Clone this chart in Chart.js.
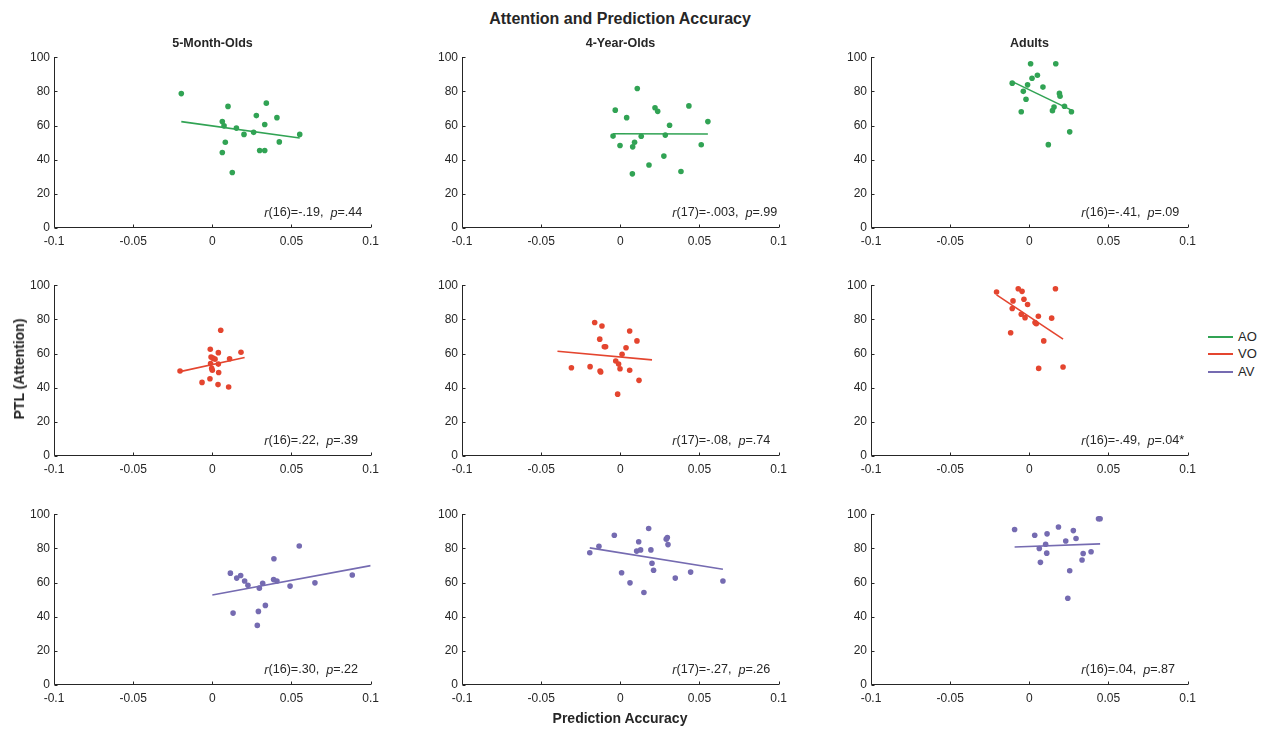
<!DOCTYPE html>
<html>
<head>
<meta charset="utf-8">
<script src="https://cdn.jsdelivr.net/npm/chart.js@4"></script>
<style>
  body { margin: 0; background: #fff; font-family: "Liberation Sans", Arial, sans-serif; color: #262626; }
  #wrap { position: relative; width: 1261px; height: 729px; overflow: hidden; }
  canvas { position: absolute; }
  .txt { position: absolute; white-space: nowrap; font-weight: bold; color: #262626; }
  .leg-line { position: absolute; height: 2px; }
  .leg-txt { position: absolute; font-size: 13px; color: #262626; }
</style>
</head>
<body>
<div id="wrap"></div>
<script>
const groups = ['5-Month-Olds', '4-Year-Olds', 'Adults'];
const conditions = ['AO', 'VO', 'AV'];
const xTicks = [-0.1, -0.05, 0, 0.05, 0.1];
const yTicks = [0, 20, 40, 60, 80, 100];

// AO
const aoInfX = [-0.0196, 0.0099, 0.0341, 0.0278, 0.0408, 0.0063, 0.0074, 0.0152, 0.0331, 0.0200, 0.0261, 0.0552, 0.0082, 0.0423, 0.0063, 0.0299, 0.0331, 0.0126];
const aoInfY = [78.7, 71.2, 73.1, 65.8, 64.6, 62.3, 59.8, 58.5, 60.6, 54.8, 56.0, 54.8, 50.2, 50.4, 44.2, 45.4, 45.4, 32.5];
const aoKidX = [0.0107, -0.0032, 0.0219, 0.0236, 0.0433, 0.0040, 0.0311, 0.0553, -0.0046, 0.0132, 0.0284, -0.0002, 0.0090, 0.0078, 0.0511, 0.0275, 0.0181, 0.0383, 0.0076];
const aoKidY = [81.7, 69.0, 70.4, 68.3, 71.5, 64.6, 60.2, 62.3, 53.8, 53.7, 54.4, 48.3, 50.2, 47.5, 48.7, 42.1, 36.9, 33.1, 31.7];
const aoAdX = [0.0008, 0.0167, 0.0051, 0.0017, -0.0108, -0.0011, 0.0086, -0.0038, 0.0190, 0.0194, -0.0021, 0.0222, 0.0156, 0.0146, -0.0051, 0.0266, 0.0255, 0.0120];
const aoAdY = [96.2, 96.2, 89.4, 87.7, 84.8, 83.8, 82.5, 80.0, 78.8, 77.1, 75.4, 71.3, 70.8, 68.7, 68.1, 68.1, 56.3, 48.8];

// VO
const voInfX = [0.0053, -0.0013, 0.0038, 0.0181, -0.0008, 0.0004, 0.0017, 0.0109, -0.0011, 0.0038, -0.0004, 0.0000, -0.0204, 0.0040, -0.0015, -0.0065, 0.0036, 0.0103];
const voInfY = [73.6, 62.5, 60.5, 60.7, 58.0, 57.3, 56.7, 56.9, 54.2, 53.8, 51.3, 50.2, 49.8, 48.9, 45.2, 43.1, 41.8, 40.4];
const voKidX = [-0.0162, -0.0116, 0.0059, -0.0130, 0.0105, -0.0101, -0.0093, 0.0036, 0.0011, -0.0029, -0.0011, -0.0309, -0.0191, -0.0002, -0.0128, -0.0124, 0.0059, 0.0118, -0.0017];
const voKidY = [78.2, 76.1, 73.2, 68.4, 67.4, 64.0, 64.0, 63.4, 59.6, 55.6, 53.8, 51.7, 52.3, 51.1, 49.8, 49.2, 50.2, 44.3, 36.2];
const voAdX = [-0.0207, -0.0070, -0.0046, 0.0165, -0.0034, -0.0103, -0.0011, -0.0108, -0.0051, 0.0057, -0.0027, 0.0141, 0.0036, 0.0044, -0.0118, 0.0091, 0.0059, 0.0213];
const voAdY = [96.0, 97.9, 96.4, 97.9, 91.8, 90.8, 88.7, 86.4, 83.0, 81.8, 81.0, 80.7, 78.2, 77.4, 72.2, 67.4, 51.3, 52.1];

// AV
const avInfX = [0.0114, 0.0154, 0.0179, 0.0204, 0.0225, 0.0297, 0.0318, 0.0387, 0.0408, 0.0389, 0.0549, 0.0491, 0.0648, 0.0884, 0.0131, 0.0291, 0.0335, 0.0284];
const avInfY = [65.5, 62.6, 64.1, 60.9, 58.4, 56.7, 59.6, 61.7, 60.9, 73.9, 81.4, 57.9, 59.8, 64.4, 42.1, 43.1, 46.6, 34.9];
const avKidX = [-0.0193, -0.0135, -0.0038, 0.0179, 0.0116, 0.0103, 0.0128, 0.0193, 0.0290, 0.0297, 0.0301, 0.0200, 0.0210, 0.0008, 0.0444, 0.0347, 0.0061, 0.0648, 0.0149];
const avKidY = [77.4, 81.2, 87.7, 91.6, 83.9, 78.4, 79.1, 79.1, 85.4, 86.4, 82.2, 71.3, 67.2, 65.7, 66.1, 62.6, 59.8, 60.9, 54.2];
const avAdX = [-0.0093, 0.0034, 0.0184, 0.0112, 0.0278, 0.0295, 0.0230, 0.0103, 0.0063, 0.0110, 0.0340, 0.0390, 0.0333, 0.0070, 0.0255, 0.0243, 0.0437, 0.0447];
const avAdY = [91.0, 87.7, 92.5, 88.5, 90.4, 85.8, 84.3, 82.4, 79.9, 77.2, 77.0, 78.0, 73.2, 71.8, 66.9, 50.8, 97.3, 97.3];

// fitted lines: [x start, x end], [y start, y end]
const fitX = [
    [[-0.0196, 0.0552], [-0.0046, 0.0553], [-0.0101, 0.0266]],
    [[-0.0204, 0.0204], [-0.0397, 0.0200], [-0.0207, 0.0213]],
    [[0, 0.1], [-0.0193, 0.0648], [-0.0093, 0.0447]]
];
const fitY = [
    [[62.3, 52.7], [55.2, 55.0], [85.4, 69.0]],
    [[49.4, 57.7], [61.3, 56.3], [94.3, 68.4]],
    [[52.7, 69.9], [80.3, 67.8], [80.8, 82.6]]
];

const stats = [
    ['r(16)=-.19,  p=.44', 'r(17)=-.003,  p=.99', 'r(16)=-.41,  p=.09'],
    ['r(16)=.22,  p=.39', 'r(17)=-.08,  p=.74', 'r(16)=-.49,  p=.04*'],
    ['r(16)=.30,  p=.22', 'r(17)=-.27,  p=.26', 'r(16)=.04,  p=.87']
];

const pointsX = [[aoInfX, aoKidX, aoAdX], [voInfX, voKidX, voAdX], [avInfX, avKidX, avAdX]];
const pointsY = [[aoInfY, aoKidY, aoAdY], [voInfY, voKidY, voAdY], [avInfY, avKidY, avAdY]];

const COLORS = ['#31a354', '#e4452f', '#756bb1'];
const AXIS = '#262626';
const FONT = '"Liberation Sans", Arial, sans-serif';

const AREA_LEFT = [54, 462, 871];
const AREA_TOP = [54, 282, 511];
const AREA_W = 317;
const AREA_H = 174;
const Y_AXIS_W = 44;
const X_AXIS_H = 26;
const PAD_TOP = 8;
const PAD_RIGHT = 14;

const axesPlugin = {
    id: 'matlabAxes',
    afterDraw(chart) {
        const ctx = chart.ctx;
        const area = chart.chartArea;
        const xs = chart.scales.x;
        const ys = chart.scales.y;
        const l = Math.round(area.left) + 0.5;
        const b = Math.round(area.bottom) - 0.5;
        ctx.save();
        ctx.strokeStyle = AXIS;
        ctx.lineWidth = 1;
        ctx.beginPath();
        ctx.moveTo(l, Math.round(area.top));
        ctx.lineTo(l, b);
        ctx.lineTo(Math.round(area.right), b);
        xTicks.forEach(v => {
            const px = Math.round(xs.getPixelForValue(v)) + 0.5;
            ctx.moveTo(px, b);
            ctx.lineTo(px, b - 3);
        });
        yTicks.forEach(v => {
            const py = Math.round(ys.getPixelForValue(v)) + 0.5;
            ctx.moveTo(l, py);
            ctx.lineTo(l + 3, py);
        });
        ctx.stroke();

        // stats text, r and p in italics
        const text = chart.options.plugins.statText;
        let x = area.left + 0.664 * (area.right - area.left);
        const y = area.bottom - 15;
        ctx.fillStyle = AXIS;
        ctx.textBaseline = 'middle';
        ctx.textAlign = 'left';
        for (const ch of text) {
            ctx.font = (ch === 'r' || ch === 'p' ? 'italic ' : '') + '12.6px ' + FONT;
            ctx.fillText(ch, x, y);
            x += ctx.measureText(ch).width;
        }
        ctx.restore();
    }
};

function fmtTick(v) {
    return String(Number(v.toFixed(3)));
}

function makePanel(row, col) {
    const wrap = document.getElementById('wrap');
    const canvas = document.createElement('canvas');
    const w = Y_AXIS_W + AREA_W + PAD_RIGHT;
    const h = PAD_TOP + AREA_H + X_AXIS_H;
    canvas.width = w;
    canvas.height = h;
    canvas.style.left = (AREA_LEFT[col] - Y_AXIS_W) + 'px';
    canvas.style.top = (AREA_TOP[row] - PAD_TOP) + 'px';
    canvas.style.width = w + 'px';
    canvas.style.height = h + 'px';
    wrap.appendChild(canvas);

    const xsArr = pointsX[row][col];
    const ysArr = pointsY[row][col];
    const pts = xsArr.map((v, i) => ({ x: v, y: ysArr[i] }));
    const fit = fitX[row][col].map((v, i) => ({ x: v, y: fitY[row][col][i] }));
    const color = COLORS[row];

    new Chart(canvas.getContext('2d'), {
        type: 'scatter',
        data: {
            datasets: [
                {
                    label: conditions[row],
                    data: pts,
                    backgroundColor: color,
                    borderColor: color,
                    pointRadius: 2.8,
                    pointBorderWidth: 0,
                    order: 1
                },
                {
                    label: conditions[row] + ' fit',
                    type: 'line',
                    data: fit,
                    borderColor: color,
                    borderWidth: 1.6,
                    pointRadius: 0,
                    fill: false,
                    order: 0
                }
            ]
        },
        options: {
            responsive: false,
            animation: false,
            devicePixelRatio: 1,
            layout: { padding: { top: PAD_TOP, right: PAD_RIGHT, left: 0, bottom: 0 } },
            plugins: {
                legend: { display: false },
                tooltip: { enabled: false },
                statText: stats[row][col]
            },
            scales: {
                x: {
                    type: 'linear',
                    min: -0.1,
                    max: 0.1,
                    grid: { display: false, drawTicks: false },
                    border: { display: false },
                    afterBuildTicks: s => { s.ticks = xTicks.map(v => ({ value: v })); },
                    afterFit: s => { s.height = X_AXIS_H; },
                    ticks: {
                        padding: 6,
                        color: AXIS,
                        maxRotation: 0,
                        font: { size: 12, family: FONT },
                        callback: v => fmtTick(v)
                    }
                },
                y: {
                    type: 'linear',
                    min: 0,
                    max: 100,
                    grid: { display: false, drawTicks: false },
                    border: { display: false },
                    afterBuildTicks: s => { s.ticks = yTicks.map(v => ({ value: v })); },
                    afterFit: s => { s.width = Y_AXIS_W; },
                    ticks: {
                        padding: 4,
                        color: AXIS,
                        font: { size: 12, family: FONT },
                        callback: v => fmtTick(v)
                    }
                }
            }
        },
        plugins: [axesPlugin]
    });
}

function addText(str, left, top, size, extra) {
    const d = document.createElement('div');
    d.className = 'txt';
    d.textContent = str;
    d.style.fontSize = size + 'px';
    d.style.left = left + 'px';
    d.style.top = top + 'px';
    d.style.transform = 'translate(-50%, -50%)' + (extra || '');
    document.getElementById('wrap').appendChild(d);
}

document.addEventListener('DOMContentLoaded', function() {
    for (let r = 0; r < 3; r++) {
        for (let c = 0; c < 3; c++) {
            makePanel(r, c);
        }
    }

    addText('Attention and Prediction Accuracy', 620, 19, 16);
    groups.forEach((g, c) => addText(g, AREA_LEFT[c] + AREA_W / 2, 43, 12.5));
    addText('PTL (Attention)', 19, 369, 14, ' rotate(-90deg)');
    addText('Prediction Accuracy', 620, 718, 14);

    const legendY = [337, 354, 372];
    conditions.forEach((name, i) => {
        const line = document.createElement('div');
        line.className = 'leg-line';
        line.style.left = '1208px';
        line.style.width = '25px';
        line.style.top = (legendY[i] - 1) + 'px';
        line.style.background = COLORS[i];
        document.getElementById('wrap').appendChild(line);

        const t = document.createElement('div');
        t.className = 'leg-txt';
        t.textContent = name;
        t.style.left = '1238px';
        t.style.top = (legendY[i] - 8) + 'px';
        document.getElementById('wrap').appendChild(t);
    });
});
</script>
</body>
</html>
